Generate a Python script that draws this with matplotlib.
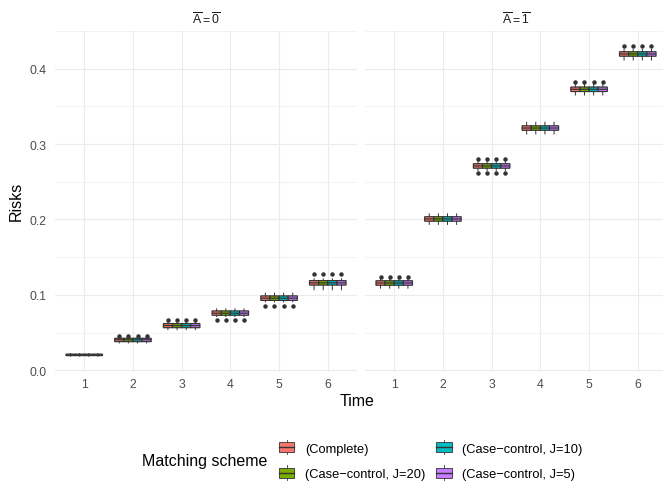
import matplotlib
matplotlib.use('Agg')
import matplotlib.pyplot as plt
from matplotlib.legend_handler import HandlerBase
from matplotlib.patches import Rectangle, Patch
from matplotlib.lines import Line2D

plt.rcParams['font.family'] = ['Liberation Sans', 'DejaVu Sans']
plt.rcParams['mathtext.fontset'] = 'custom'
plt.rcParams['mathtext.rm'] = 'Liberation Sans'
plt.rcParams['mathtext.it'] = 'Liberation Sans:italic'

# ---------------- data ----------------
times = [1, 2, 3, 4, 5, 6]
schemes = ['(Complete)', '(Case\u2212control, J=20)', '(Case\u2212control, J=10)', '(Case\u2212control, J=5)']
colors = ['#F8766D', '#7CAE00', '#00BFC4', '#C77CFF']
panel_titles = [r'$\overline{\mathrm{A}}=\overline{0}$', r'$\overline{\mathrm{A}}=\overline{1}$']

# A-bar = 0
a0_med = [0.0205, 0.0405, 0.0593, 0.0758, 0.0957, 0.1160]
a0_q1 = [0.0195, 0.0380, 0.0565, 0.0730, 0.0927, 0.1130]
a0_q3 = [0.0215, 0.0425, 0.0620, 0.0788, 0.0987, 0.1190]
a0_wlo = [0.0187, 0.0363, 0.0540, 0.0713, 0.0908, 0.1069]
a0_whi = [0.0223, 0.0430, 0.0635, 0.0815, 0.1023, 0.1213]
a0_fliers = [[], [0.0456], [0.0668], [0.0668], [0.0851], [0.1278]]

# A-bar = 1
a1_med = [0.1158, 0.2007, 0.2710, 0.3213, 0.3727, 0.4195]
a1_q1 = [0.1128, 0.1977, 0.2680, 0.3183, 0.3697, 0.4165]
a1_q3 = [0.1188, 0.2037, 0.2740, 0.3243, 0.3757, 0.4225]
a1_wlo = [0.1090, 0.1935, 0.2650, 0.3134, 0.3651, 0.4115]
a1_whi = [0.1215, 0.2075, 0.2765, 0.3289, 0.3790, 0.4255]
a1_fliers = [[0.1237], [], [0.2613, 0.2798], [], [0.3827], [0.4297]]

panel_data = [
    (a0_med, a0_q1, a0_q3, a0_wlo, a0_whi, a0_fliers),
    (a1_med, a1_q1, a1_q3, a1_wlo, a1_whi, a1_fliers),
]

# ---------------- figure ----------------
W, H = 663, 485
fig = plt.figure(figsize=(W / 100, H / 100), dpi=100)
fig.patch.set_facecolor('white')

ybot_px, ytop_px = 373.2, 31.6
ax_b = (H - ybot_px) / H
ax_h = (ybot_px - ytop_px) / H
lefts = [55, 365]
pw = 302

grid_c = '#EBEBEB'
text_c = '#4D4D4D'
edge_c = '#333333'

dodge = 0.75 / len(schemes)
offsets = [(i - (len(schemes) - 1) / 2) * dodge for i in range(len(schemes))]

axes = []
for p in range(2):
    ax = fig.add_axes([lefts[p] / W, ax_b, pw / W, ax_h])
    axes.append(ax)
    med, q1, q3, wlo, whi, fl = panel_data[p]
    for s in range(len(schemes)):
        stats = []
        for t in range(len(times)):
            stats.append(dict(med=med[t], q1=q1[t], q3=q3[t], whislo=wlo[t],
                              whishi=whi[t], fliers=fl[t]))
        pos = [t + offsets[s] for t in times]
        res = ax.bxp(stats, positions=pos, widths=dodge, patch_artist=True,
                     showcaps=False, manage_ticks=False,
                     boxprops=dict(facecolor=colors[s], edgecolor=edge_c, linewidth=0.85),
                     medianprops=dict(color=edge_c, linewidth=0.9),
                     whiskerprops=dict(color=edge_c, linewidth=0.7),
                     flierprops=dict(marker='o', markersize=2.2, markerfacecolor=edge_c,
                                     markeredgecolor=edge_c, linestyle='none'))
        for key in ('boxes', 'medians', 'whiskers'):
            for art in res[key]:
                art.set_snap(False)
    ax.set_xlim(0.4, 6.6)
    ax.set_ylim(-0.0025, 0.4505)
    ax.set_xticks(times)
    ax.set_xticklabels([str(t) for t in times])
    ax.set_yticks([0.0, 0.1, 0.2, 0.3, 0.4])
    ax.set_yticks([0.05, 0.15, 0.25, 0.35, 0.45], minor=True)
    ax.grid(True, which='major', color=grid_c, linewidth=0.8)
    ax.grid(True, which='minor', axis='y', color=grid_c, linewidth=0.4)
    ax.set_axisbelow(True)
    for sp in ax.spines.values():
        sp.set_visible(False)
    ax.tick_params(axis='both', which='both', length=0, labelsize=8.8, labelcolor=text_c)
    ax.tick_params(axis='y', pad=5.8)
    ax.tick_params(axis='x', pad=4.3)
    if p == 0:
        ax.set_yticklabels(['0.0', '0.1', '0.2', '0.3', '0.4'])
    else:
        ax.set_yticklabels([])
    fig.text((lefts[p] + pw / 2) / W, 1 - 20 / H, panel_titles[p], ha='center', va='center',
             fontsize=8.8, color='#1A1A1A')

fig.text(357 / W, 1 - 402 / H, 'Time', ha='center', va='center', fontsize=11.5)
fig.text(16.5 / W, 1 - 201 / H, 'Risks', ha='center', va='center', fontsize=11.5, rotation=90)


class BoxHandler(HandlerBase):
    def create_artists(self, legend, orig_handle, xdescent, ydescent, width, height,
                       fontsize, trans):
        fc = orig_handle.get_facecolor()
        cx = -xdescent + width / 2
        cy = -ydescent + height / 2
        bw = width * 0.88
        bh = height * 0.66
        vl = Line2D([cx, cx], [cy - height / 2, cy + height / 2], color=edge_c,
                    linewidth=0.6, transform=trans)
        rect = Rectangle((cx - bw / 2, cy - bh / 2), bw, bh, facecolor=fc,
                         edgecolor=edge_c, linewidth=0.6, transform=trans)
        hl = Line2D([cx - bw / 2, cx + bw / 2], [cy, cy], color=edge_c,
                    linewidth=1.0, transform=trans)
        return [vl, rect, hl]


handles = [Patch(facecolor=c) for c in colors]
leg = fig.legend(handles, schemes, ncol=2, loc='center left',
                 bbox_to_anchor=(278 / W, 1 - 461 / H), frameon=False,
                 fontsize=9.3, handlelength=1.35, handleheight=1.35,
                 handletextpad=0.75, columnspacing=0.75, labelspacing=0.85,
                 borderpad=0, borderaxespad=0,
                 handler_map={Patch: BoxHandler()})
fig.text(141.7 / W, 1 - 461.7 / H, 'Matching scheme', ha='left', va='center', fontsize=11.5)

fig.savefig('out.png', dpi=100, facecolor='white')
